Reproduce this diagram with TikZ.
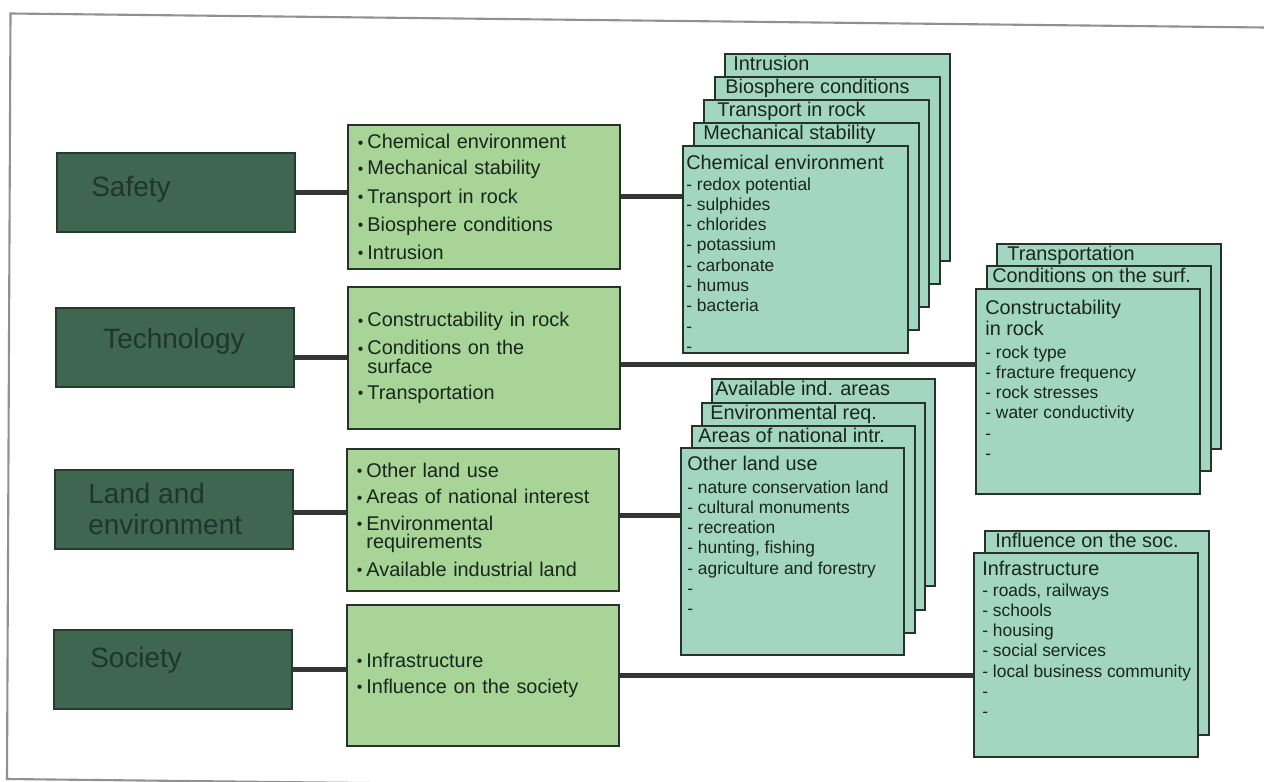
\documentclass[tikz,border=0pt]{standalone}
\usepackage{fontspec}
\setmainfont{Liberation Sans}
\usetikzlibrary{calc}
\definecolor{darkfill}{RGB}{62,102,80}
\definecolor{darkedge}{RGB}{38,58,46}
\definecolor{darktext}{RGB}{32,54,42}
\definecolor{lightfill}{RGB}{168,212,152}
\definecolor{mintfill}{RGB}{163,214,192}
\definecolor{edge}{RGB}{40,50,44}
\definecolor{ink}{RGB}{24,38,28}
\definecolor{connc}{RGB}{52,54,52}
\definecolor{framec}{RGB}{145,145,145}
\newcommand{\bu}{\makebox[0.19cm][l]{\raisebox{0.4pt}{\fontsize{9pt}{9pt}\selectfont\textbullet}}}
\newcommand{\ind}{\makebox[0.19cm]{}}
\newcommand{\lineset}[1]{\begin{tabular}[t]{@{}l@{}}#1\end{tabular}}
\tikzset{
  darkbox/.style={draw=darkedge, fill=darkfill, line width=1pt, minimum width=4.76cm, minimum height=1.58cm, inner sep=0pt, anchor=north west},
  darklabel/.style={text=darktext, font=\fontsize{15.9pt}{18.2pt}\selectfont, inner sep=0pt, anchor=base west},
  greenbox/.style={draw=edge, fill=lightfill, line width=1.1pt, text=ink, text width=5.04cm, inner xsep=0.2cm, inner ysep=0pt, align=left, anchor=north west, font=\fontsize{11.3pt}{10.4pt}\selectfont},
  card/.style={draw=edge, fill=mintfill, line width=1.1pt, inner sep=0pt, anchor=north west, minimum width=4.48cm, minimum height=4.14cm},
  cardhead/.style={text=ink, font=\fontsize{11.3pt}{12.5pt}\selectfont, inner sep=0pt, anchor=base west},
  carditems/.style={text=ink, font=\fontsize{9.9pt}{11.55pt}\selectfont, inner sep=0pt, anchor=base west},
  conn/.style={draw=connc, line width=2.8pt},
}
\begin{document}
\begin{tikzpicture}[x=0.02cm, y=-0.02cm]
\useasboundingbox (0,0) rectangle (1264,781);
\clip (0,0) rectangle (1264,781);
\fill[white] (0,0) rectangle (1264,781);
% outer frame
\coordinate (ftl) at (10.5,13.5);
\coordinate (ftr) at (1264,27.5);
\coordinate (fbl) at (7,779);
\coordinate (fbr) at (1264,793);
\draw[framec, line width=1.2pt] (ftr) -- (ftl) -- (fbl) -- (fbr);

% left category boxes
\node[darkbox] (safety) at (56,152) {};
\node[darkbox] (tech) at (55,307) {};
\node[darkbox] (land) at (54,469) {};
\node[darkbox] (soc) at (53,629) {};
\node[darklabel] (safetyt) at ($(safety.north west)+(35,44)$) {Safety};
\node[darklabel] (techt) at ($(tech.north west)+(48,41)$) {Technology};
\node[darklabel] (landt) at ($(land.north west)+(34,34)$) {\lineset{Land and\\environment}};
\node[darklabel] (soct) at ($(soc.north west)+(37,38)$) {Society};

% green boxes
\node[greenbox, minimum height=2.88cm] (g1) at (347,124) {\bu Chemical environment\\[4.5pt]\bu Mechanical stability\\[4.5pt]\bu Transport in rock\\[4.5pt]\bu Biosphere conditions\\[4.5pt]\bu Intrusion};
\node[greenbox, minimum height=2.84cm] (g2) at (347,286) {\bu Constructability in rock\\[4.5pt]\bu Conditions on the\\\ind surface\\[4.5pt]\bu Transportation};
\node[greenbox, minimum height=2.84cm] (g3) at (346,448) {\bu Other land use\\[4.5pt]\bu Areas of national interest\\[4.5pt]\bu Environmental\\\ind requirements\\[4.5pt]\bu Available industrial land};
\node[greenbox, minimum height=2.82cm] (g4) at (346,604) {\bu Infrastructure\\[4.5pt]\bu Influence on the society};

% safety cards
\node[card, minimum width=4.5cm] (s5) at (724,53) {};
\node[cardhead] (s5h) at ($(s5.north west)+(9,17)$) {Intrusion};
\node[card, minimum width=4.5cm] (s4) at (714,76) {};
\node[cardhead] (s4h) at ($(s4.north west)+(11,17)$) {Biosphere conditions};
\node[card, minimum width=4.5cm] (s3) at (703,99) {};
\node[cardhead] (s3h) at ($(s3.north west)+(14,17)$) {Transport in rock};
\node[card, minimum width=4.5cm] (s2) at (693,122) {};
\node[cardhead] (s2h) at ($(s2.north west)+(10,17)$) {Mechanical stability};
\node[card, minimum width=4.5cm] (s1) at (682,145) {};
\node[cardhead] (s1h) at ($(s1.north west)+(4,24)$) {Chemical environment};
\node[carditems] (s1i) at ($(s1.north west)+(4,45)$) {\lineset{- redox potential\\- sulphides\\- chlorides\\- potassium\\- carbonate\\- humus\\- bacteria\\-\\-}};

% technology cards
\node[card, minimum height=4.1cm] (t3) at (996,243) {};
\node[cardhead] (t3h) at ($(t3.north west)+(11,17)$) {Transportation};
\node[card, minimum height=4.1cm] (t2) at (986,265) {};
\node[cardhead] (t2h) at ($(t2.north west)+(6,17)$) {Conditions on the surf.};
\node[card, minimum height=4.1cm] (t1) at (975,288) {};
\node[cardhead] (t1h) at ($(t1.north west)+(10,26)$) {\lineset{Constructability\\in rock}};
\node[carditems] (t1i) at ($(t1.north west)+(10,70)$) {\lineset{- rock type\\- fracture frequency\\- rock stresses\\- water conductivity\\-\\-}};

% land cards
\node[card, minimum width=4.46cm] (l4) at (711,378) {};
\node[cardhead] (l4h) at ($(l4.north west)+(4,17)$) {Available ind. areas};
\node[card, minimum width=4.46cm] (l3) at (701,402) {};
\node[cardhead] (l3h) at ($(l3.north west)+(9,17)$) {Environmental req.};
\node[card, minimum width=4.46cm] (l2) at (691,425) {};
\node[cardhead] (l2h) at ($(l2.north west)+(7,17)$) {Areas of national intr.};
\node[card, minimum width=4.46cm] (l1) at (680,447) {};
\node[cardhead] (l1h) at ($(l1.north west)+(7,23)$) {Other land use};
\node[carditems] (l1i) at ($(l1.north west)+(7,46)$) {\lineset{- nature conservation land\\- cultural monuments\\- recreation\\- hunting, fishing\\- agriculture and forestry\\-\\-}};

% society cards
\node[card, minimum height=4.08cm] (c2) at (984,530) {};
\node[cardhead] (c2h) at ($(c2.north west)+(11,17)$) {Influence on the soc.};
\node[card, minimum height=4.08cm] (c1) at (973,552) {};
\node[cardhead] (c1h) at ($(c1.north west)+(9,23)$) {Infrastructure};
\node[carditems] (c1i) at ($(c1.north west)+(9,44)$) {\lineset{- roads, railways\\- schools\\- housing\\- social services\\- local business community\\-\\-}};

% connectors
\draw[conn] (safety.east) -- (safety.east -| g1.west);
\draw[conn] (g1.east) -- (g1.east -| s1.west);
\draw[conn] (g2.west) -- (g2.west -| tech.east);
\coordinate (g2r) at ($(g2.east)+(0,7)$);
\draw[conn] (g2r) -- (g2r -| t1.west);
\coordinate (landr) at ($(land.east)+(0,3)$);
\draw[conn] (landr) -- (landr -| g3.west);
\coordinate (g3r) at ($(g3.east)+(0,-4)$);
\draw[conn] (g3r) -- (g3r -| l1.west);
\draw[conn] (soc.east) -- (soc.east -| g4.west);
\draw[conn] (g4.east) -- (g4.east -| c1.west);
\end{tikzpicture}
\end{document}
